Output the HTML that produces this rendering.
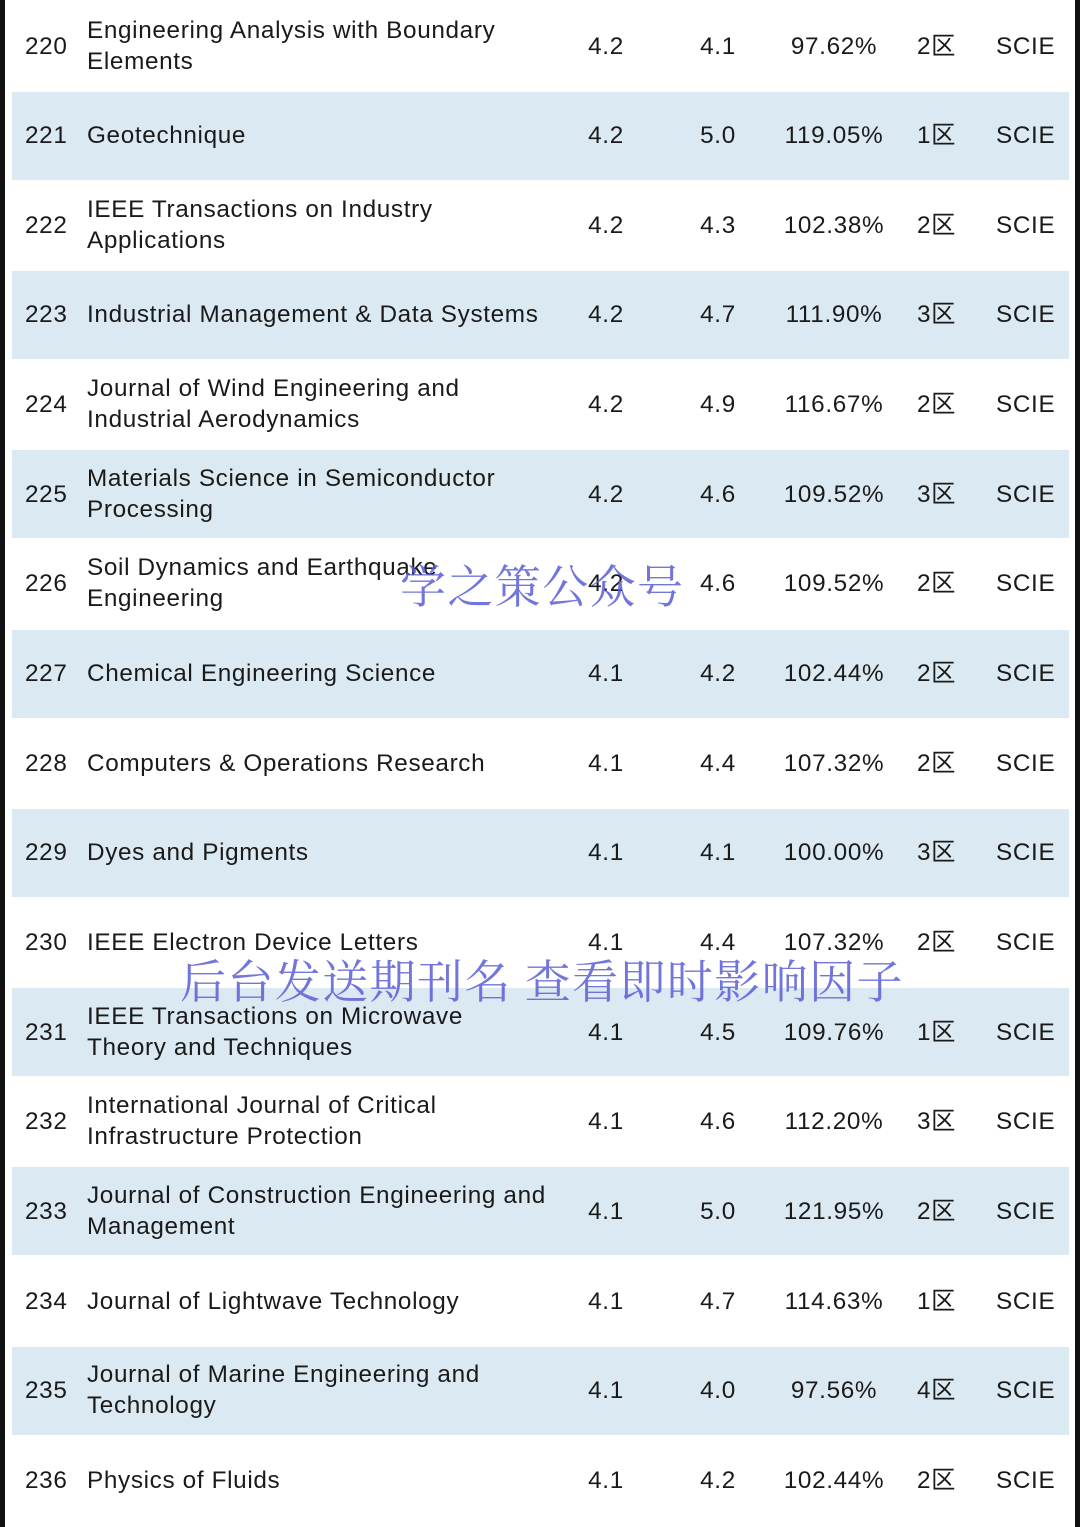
<!DOCTYPE html>
<html><head><meta charset="utf-8"><style>
body{margin:0;width:1080px;height:1527px;background:#fff;position:relative;overflow:hidden;font-family:"Liberation Sans",Arial,sans-serif;color:#1a1a1a}
.edge{position:absolute;top:0;height:1527px;background:#111}
.row{position:absolute;left:12px;width:1057px;height:88px}
.row.b{background:#dbeaf2}
.c{position:absolute;font-size:24.3px;line-height:31px;white-space:nowrap;letter-spacing:0.65px}
.wm{position:absolute;font-family:"Liberation Serif","Noto Serif CJK SC",serif;color:#5a5fd6;opacity:.85;font-size:46px;white-space:nowrap;line-height:50px;letter-spacing:1.4px}
</style></head><body>
<div class="edge" style="left:0;width:5px"></div>
<div class="edge" style="left:1075px;width:5px"></div>
<div id="t"></div>
<div class="wm" style="left:400px;top:563px">学之策公众号</div>
<div class="wm" style="left:180px;top:958px">后台发送期刊名 查看即时影响因子</div>
<script>
const ranks=[220,221,222,223,224,225,226,227,228,229,230,231,232,233,234,235,236];
const titles=[["Engineering Analysis with Boundary","Elements"],["Geotechnique"],["IEEE Transactions on Industry","Applications"],["Industrial Management & Data Systems"],["Journal of Wind Engineering and","Industrial Aerodynamics"],["Materials Science in Semiconductor","Processing"],["Soil Dynamics and Earthquake","Engineering"],["Chemical Engineering Science"],["Computers & Operations Research"],["Dyes and Pigments"],["IEEE Electron Device Letters"],["IEEE Transactions on Microwave","Theory and Techniques"],["International Journal of Critical","Infrastructure Protection"],["Journal of Construction Engineering and","Management"],["Journal of Lightwave Technology"],["Journal of Marine Engineering and","Technology"],["Physics of Fluids"]];
const if1=["4.2","4.2","4.2","4.2","4.2","4.2","4.2","4.1","4.1","4.1","4.1","4.1","4.1","4.1","4.1","4.1","4.1"];
const if2=["4.1","5.0","4.3","4.7","4.9","4.6","4.6","4.2","4.4","4.1","4.4","4.5","4.6","5.0","4.7","4.0","4.2"];
const pct=["97.62%","119.05%","102.38%","111.90%","116.67%","109.52%","109.52%","102.44%","107.32%","100.00%","107.32%","109.76%","112.20%","121.95%","114.63%","97.56%","102.44%"];
const zone=["2区","1区","2区","3区","2区","3区","2区","2区","2区","3区","2区","1区","3区","2区","1区","4区","2区"];
const t=document.getElementById('t');
function cell(parent,name,text,left,top,center){
  const d=document.createElement('div');
  d.className='c';
  
  
  d.textContent=text;
  d.style.top=top+'px';
  if(center){d.style.left=(left-60)+'px';d.style.width='120px';d.style.textAlign='center';}
  else d.style.left=left+'px';
  parent.appendChild(d);
}
ranks.forEach((r,i)=>{
  const cy=46+i*89.65;
  const row=document.createElement('div');
  row.className='row'+(i%2?' b':'');
  
  
  row.style.top=(cy-44)+'px';
  t.appendChild(row);
  const y=cy-15.5;
  cell(t,'rank',String(r),25,y);
  const tt=titles[i];
  if(tt.length===1) cell(t,'journal-title',tt[0],87,y);
  else {cell(t,'journal-title',tt[0],87,y-16);cell(t,'journal-title',tt[1],87,y+15);}
  cell(t,'impact-factor',if1[i],606,y,true);
  cell(t,'impact-factor-new',if2[i],718,y,true);
  cell(t,'growth-percent',pct[i],834,y,true);
  const z=document.createElement('div');
  z.className='c';
  
  
  z.style.left='917px';z.style.top=y+'px';
  z.style.fontFamily='"Liberation Sans","Noto Sans CJK SC",sans-serif';
  z.textContent=zone[i];
  t.appendChild(z);
  cell(t,'index-type','SCIE',996,y);
});
</script>
</body></html>
